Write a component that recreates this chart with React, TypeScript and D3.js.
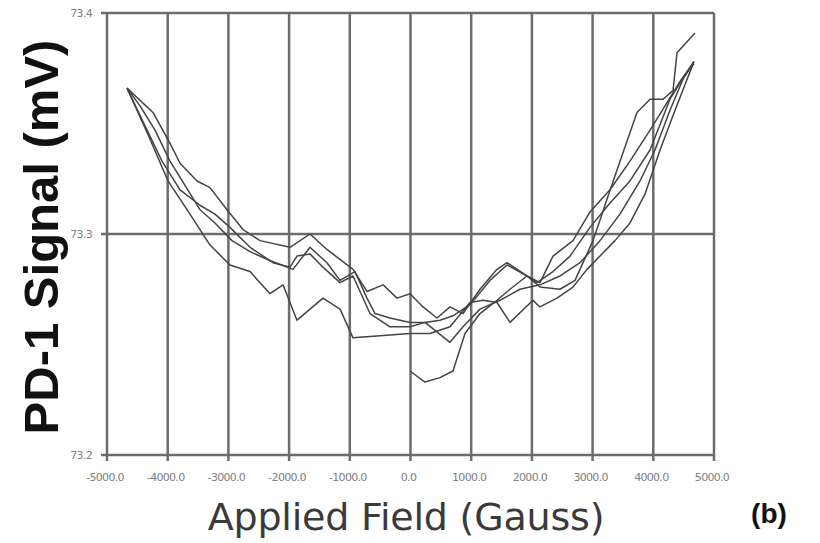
import * as d3 from 'd3';

// field (Gauss) / signal (mV), one pair of arrays per sweep
const field1 = [-4670, -4242, -3962, -3797, -3517, -3303, -3023, -2759, -2479, -1985, -1656, -1376, -947, -717, -453, -222, -8, 206, 437, 651, 865, 1145, 1425, 1590, 1919, 2133, 2348, 2677, 2957, 3287, 3616, 3946, 4193, 4440, 4670];
const signal1 = [73.366, 73.355, 73.341, 73.332, 73.324, 73.321, 73.311, 73.302, 73.297, 73.294, 73.300, 73.293, 73.284, 73.274, 73.277, 73.271, 73.273, 73.267, 73.262, 73.267, 73.264, 73.275, 73.284, 73.287, 73.281, 73.278, 73.290, 73.297, 73.310, 73.320, 73.333, 73.347, 73.358, 73.369, 73.378];

const field2 = [-4670, -4292, -3995, -3633, -3303, -2974, -2644, -2315, -2100, -1870, -1442, -1161, -947, -502, -8, 321, 651, 980, 1195, 1425, 1639, 2018, 2133, 2413, 2677, 2908, 3122, 3369, 3616, 3863, 4111, 4358, 4670];
const signal2 = [73.366, 73.343, 73.324, 73.309, 73.295, 73.286, 73.283, 73.273, 73.277, 73.261, 73.271, 73.266, 73.253, 73.254, 73.255, 73.255, 73.258, 73.269, 73.270, 73.269, 73.260, 73.270, 73.267, 73.271, 73.276, 73.284, 73.290, 73.297, 73.305, 73.318, 73.338, 73.356, 73.378];

const field3 = [-4670, -4374, -4094, -3797, -3468, -3221, -2974, -2644, -2265, -1985, -1870, -1656, -1442, -1161, -947, -667, -338, -8, 239, 486, 700, 980, 1310, 1590, 1919, 2084, 2348, 2628, 2957, 3287, 3616, 3946, 4275, 4522, 4670];
const signal3 = [73.366, 73.349, 73.333, 73.320, 73.313, 73.309, 73.303, 73.294, 73.287, 73.285, 73.290, 73.291, 73.285, 73.278, 73.281, 73.264, 73.258, 73.258, 73.260, 73.261, 73.263, 73.268, 73.279, 73.286, 73.281, 73.278, 73.283, 73.290, 73.303, 73.314, 73.324, 73.338, 73.361, 73.372, 73.377];

const field4 = [-4670, -4456, -4209, -3962, -3715, -3468, -3221, -2941, -2644, -2315, -1936, -1656, -1376, -1161, -914, -717, -585, -338, -8, 239, 651, 865, 1145, 1475, 1804, 2133, 2463, 2793, 3122, 3451, 3781, 4028, 4275, 4489, 4670];
const signal4 = [73.366, 73.358, 73.347, 73.333, 73.322, 73.311, 73.305, 73.297, 73.292, 73.288, 73.284, 73.294, 73.287, 73.279, 73.283, 73.271, 73.264, 73.262, 73.260, 73.260, 73.251, 73.258, 73.266, 73.270, 73.275, 73.277, 73.281, 73.287, 73.297, 73.309, 73.324, 73.338, 73.356, 73.370, 73.378];

// sweep that starts at zero field
const field5 = [-8, 239, 486, 700, 898, 1145, 1425, 1639, 1919, 2133, 2463, 2710, 3007, 3204, 3402, 3731, 3946, 4160, 4325, 4391, 4687];
const signal5 = [73.238, 73.233, 73.235, 73.238, 73.255, 73.264, 73.270, 73.275, 73.281, 73.276, 73.275, 73.279, 73.297, 73.313, 73.329, 73.355, 73.361, 73.361, 73.365, 73.382, 73.391];

const xTicks = [-5000, -4000, -3000, -2000, -1000, 0, 1000, 2000, 3000, 4000, 5000];
const yTicks = [73.2, 73.3, 73.4];

const sweeps = [
  [field1, signal1],
  [field2, signal2],
  [field3, signal3],
  [field4, signal4],
  [field5, signal5],
];

const W = 820;
const H = 543;
const left = 107;
const right = 714;
const top = 13;
const bottom = 455;

export default function App() {
  const x = d3.scaleLinear().domain([-5000, 5000]).range([left, right]);
  const y = d3.scaleLinear().domain([73.2, 73.4]).range([bottom, top]);

  const line = d3
    .line<[number, number]>()
    .x(d => x(d[0]))
    .y(d => y(d[1]));

  const gridColor = '#6c6c6c';

  return (
    <svg width={W} height={H} style={{ position: 'absolute', left: 0, top: 0, background: '#fff' }}>
      <defs>
        <filter id="soft" x="-5%" y="-5%" width="110%" height="110%">
          <feGaussianBlur stdDeviation="0.5" />
        </filter>
      </defs>
      <rect width={W} height={H} fill="#fff" />

      <g filter="url(#soft)">
        {/* vertical grid */}
        {xTicks.map(t => (
          <line key={'gx' + t} x1={x(t)} x2={x(t)} y1={top} y2={bottom + 6} stroke={gridColor} strokeWidth={2.5} />
        ))}
        {/* horizontal grid + frame */}
        {yTicks.map(t => (
          <line key={'gy' + t} x1={left - 6} x2={right} y1={y(t)} y2={y(t)} stroke={gridColor} strokeWidth={2.5} />
        ))}

        {sweeps.map((s, i) => {
          const pts = s[0].map((f, j) => [f, s[1][j]] as [number, number]);
          return (
            <path key={i} d={line(pts) || ''} fill="none" stroke="#444" strokeWidth={1.5} strokeLinejoin="round" />
          );
        })}
      </g>

      {xTicks.map(t => (
        <text key={'tx' + t} x={x(t) - 2} y={481} textAnchor="middle" fontFamily="DejaVu Sans" fontSize={11} fill="#808080" letterSpacing={-0.7}>
          {t.toFixed(1)}
        </text>
      ))}
      {yTicks.map(t => (
        <text key={'ty' + t} x={left - 15} y={y(t) + 4} textAnchor="end" fontFamily="DejaVu Sans" fontSize={11} fill="#808080" letterSpacing={-0.7}>
          {t.toFixed(1)}
        </text>
      ))}

      <text
        transform={`translate(41, ${(top + bottom) / 2 + 3}) rotate(-90)`}
        textAnchor="middle"
        dominantBaseline="central"
        fontFamily="Liberation Sans"
        fontWeight="bold"
        fontSize={49}
        fill="#111"
      >
        PD-1 Signal (mV)
      </text>

      <text x={406} y={530} textAnchor="middle" fontFamily="DejaVu Sans" fontSize={38} fill="#3a3a3a" letterSpacing={-0.2}>
        Applied Field (Gauss)
      </text>

      <text x={769} y={523} textAnchor="middle" fontFamily="Liberation Sans" fontWeight="bold" fontSize={28} fill="#111">
        (b)
      </text>
    </svg>
  );
}
